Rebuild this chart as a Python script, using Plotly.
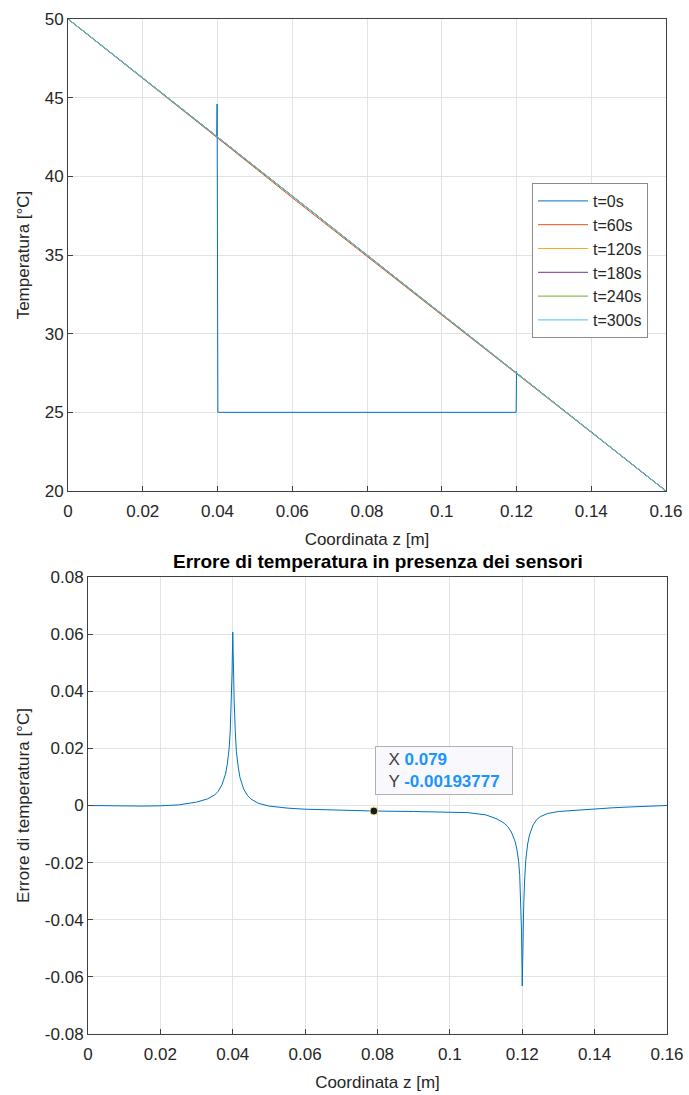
import plotly.graph_objects as go

# ---------------- data ----------------
series_names = ["t=0s", "t=60s", "t=120s", "t=180s", "t=240s", "t=300s"]
series_colors = ["#0072BD", "#D95319", "#EDB120", "#7E2F8E", "#77AC30", "#4DBEEE"]

z_t0 = [0.0, 0.0398, 0.0399, 0.0401, 0.1199, 0.12, 0.1201, 0.16]
T_t0 = [50.0, 42.54, 44.6, 25.0, 25.0, 27.6, 27.48, 20.0]

z_grid = [0.0, 0.02, 0.04, 0.06, 0.08, 0.10, 0.12, 0.14, 0.16]
T_t60 = [50.0, 46.25, 42.44, 38.64, 34.90, 31.20, 27.47, 23.74, 20.0]
T_t120 = [50.0, 46.25, 42.47, 38.69, 34.95, 31.23, 27.49, 23.75, 20.0]
T_t180 = [50.0, 46.25, 42.48, 38.72, 34.97, 31.24, 27.50, 23.75, 20.0]
T_t240 = [50.0, 46.25, 42.49, 38.74, 34.99, 31.25, 27.50, 23.75, 20.0]
T_t300 = [50.0, 46.25, 42.50, 38.75, 35.00, 31.25, 27.50, 23.75, 20.0]

z_err = [0, 0.005, 0.01, 0.015, 0.02, 0.025, 0.03, 0.033, 0.035, 0.036, 0.037,
         0.038, 0.0385, 0.039, 0.0393, 0.0396, 0.0398, 0.04, 0.0402, 0.0404,
         0.0407, 0.041, 0.0415, 0.042, 0.043, 0.044, 0.045, 0.047, 0.05, 0.055,
         0.06, 0.07, 0.079, 0.09, 0.1, 0.105, 0.11, 0.113, 0.115, 0.116, 0.117,
         0.118, 0.1185, 0.119, 0.1193, 0.1196, 0.1198, 0.12, 0.1202, 0.1204,
         0.1207, 0.121, 0.1215, 0.122, 0.123, 0.124, 0.125, 0.127, 0.13, 0.135,
         0.14, 0.145, 0.15, 0.155, 0.16]
err = [0, -0.0001, -0.0002, -0.0002, -0.0001, 0.0002, 0.0012, 0.0023, 0.0037,
       0.005, 0.0072, 0.011, 0.0145, 0.02, 0.026, 0.036, 0.046, 0.0607, 0.046,
       0.036, 0.026, 0.019, 0.0135, 0.0098, 0.0058, 0.0036, 0.0023, 0.0008,
       -0.0002, -0.0009, -0.0013, -0.0017, -0.00193777, -0.0021, -0.0022,
       -0.0025, -0.0033, -0.0047, -0.0062, -0.0074, -0.0093, -0.0125, -0.0152,
       -0.0195, -0.0245, -0.033, -0.044, -0.0632, -0.046, -0.035, -0.025,
       -0.0188, -0.0135, -0.0103, -0.0068, -0.0049, -0.0039, -0.0028, -0.0021,
       -0.0016, -0.0012, -0.0008, -0.0005, -0.0002, 0]

tip_x = 0.079
tip_y = -0.00193777

x_ticks = [0, 0.02, 0.04, 0.06, 0.08, 0.1, 0.12, 0.14, 0.16]
x_ticktext = ["0", "0.02", "0.04", "0.06", "0.08", "0.1", "0.12", "0.14", "0.16"]
y1_ticks = [20, 25, 30, 35, 40, 45, 50]
y1_ticktext = ["20", "25", "30", "35", "40", "45", "50"]
y2_ticks = [-0.08, -0.06, -0.04, -0.02, 0, 0.02, 0.04, 0.06, 0.08]
y2_ticktext = ["-0.08", "-0.06", "-0.04", "-0.02", "0", "0.02", "0.04", "0.06", "0.08"]

# ---------------- figure ----------------
W, H = 689, 1095
FONT = "Liberation Sans, Arial, Helvetica, sans-serif"
TXT = "#262626"
AX = "#404040"
GRID = "#e3e3e3"
FS = 17


def fx(px):
    return px / W


def fy(py):
    return 1 - py / H


fig = go.Figure()

top_series = [(z_t0, T_t0), (z_grid, T_t60), (z_grid, T_t120),
              (z_grid, T_t180), (z_grid, T_t240), (z_grid, T_t300)]
for (zz, tt), name, col in zip(top_series, series_names, series_colors):
    fig.add_trace(go.Scatter(x=zz, y=tt, mode="lines", name=name,
                             line=dict(color=col, width=1),
                             xaxis="x", yaxis="y"))

fig.add_trace(go.Scatter(x=z_err, y=err, mode="lines", showlegend=False,
                         line=dict(color="#0072BD", width=1),
                         xaxis="x2", yaxis="y2"))
fig.add_trace(go.Scatter(x=[tip_x], y=[tip_y], mode="markers", showlegend=False,
                         marker=dict(color="#1a1a1a", size=8,
                                     line=dict(color="#f0e68c", width=1)),
                         xaxis="x2", yaxis="y2"))

axis_common = dict(showline=True, linecolor=AX, linewidth=1, mirror=True,
                   showgrid=True, gridcolor=GRID, gridwidth=1,
                   ticks="inside", ticklen=5, tickcolor=AX,
                   tickfont=dict(family=FONT, size=FS, color=TXT),
                   zeroline=False, automargin=False,
                   ticklabeloverflow="allow")

top_dom_x = [fx(68), fx(666)]
top_dom_y = [fy(491), fy(19)]
bot_dom_x = [fx(88), fx(667)]
bot_dom_y = [fy(1034), fy(577)]

fig.update_layout(
    width=W, height=H,
    margin=dict(l=0, r=0, t=0, b=0, autoexpand=False),
    paper_bgcolor="white", plot_bgcolor="white",
    font=dict(family=FONT, color=TXT),
    xaxis=dict(domain=top_dom_x, range=[0, 0.16], tickvals=x_ticks,
               ticktext=x_ticktext, anchor="y", ticklabelstandoff=5,
               title=dict(text="Coordinata z [m]", font=dict(size=FS, color=TXT),
                          standoff=12),
               **axis_common),
    yaxis=dict(domain=top_dom_y, range=[20, 50], tickvals=y1_ticks,
               ticktext=y1_ticktext, anchor="x",
               title=dict(text="Temperatura [°C]", font=dict(size=FS, color=TXT),
                          standoff=10),
               **axis_common),
    xaxis2=dict(domain=bot_dom_x, range=[0, 0.16], tickvals=x_ticks,
                ticktext=x_ticktext, anchor="y2", ticklabelstandoff=5,
                title=dict(text="Coordinata z [m]", font=dict(size=FS, color=TXT),
                           standoff=12),
                **axis_common),
    yaxis2=dict(domain=bot_dom_y, range=[-0.08, 0.08], tickvals=y2_ticks,
                ticktext=y2_ticktext, anchor="x2",
                title=dict(text="Errore di temperatura [°C]",
                           font=dict(size=FS, color=TXT), standoff=10),
                **axis_common),
    legend=dict(x=fx(532), y=fy(183), xanchor="left", yanchor="top",
                bgcolor="white", bordercolor="#8c8c8c", borderwidth=1,
                font=dict(family=FONT, size=16, color=TXT),
                tracegroupgap=0, itemwidth=50),
    showlegend=True,
)

# bottom title
fig.add_annotation(text="<b>Errore di temperatura in presenza dei sensori</b>",
                   xref="paper", yref="paper",
                   x=(bot_dom_x[0] + bot_dom_x[1]) / 2, y=bot_dom_y[1],
                   xanchor="center", yanchor="bottom", yshift=3,
                   showarrow=False, font=dict(family=FONT, size=19, color="#000000"))

# datatip
tip_text = ("&nbsp;&nbsp;X <b><span style='color:#1a94ff'>%s</span></b><br>"
            "&nbsp;&nbsp;Y <b><span style='color:#1a94ff'>%s</span></b>&nbsp;&nbsp;") % (
    "0.079", "-0.00193777")
fig.add_annotation(text=tip_text, xref="x2", yref="y2", x=tip_x, y=tip_y,
                   xanchor="left", yanchor="bottom", xshift=1, yshift=16,
                   showarrow=False, align="left",
                   bgcolor="#f8f8fd", bordercolor="#b0b0b0", borderwidth=1,
                   borderpad=3,
                   font=dict(family=FONT, size=FS, color="#404040"))

fig.write_html("out.html",
               config={"displayModeBar": False},
               post_script="document.body.style.margin='0';"
                           "document.body.style.overflow='hidden';")
